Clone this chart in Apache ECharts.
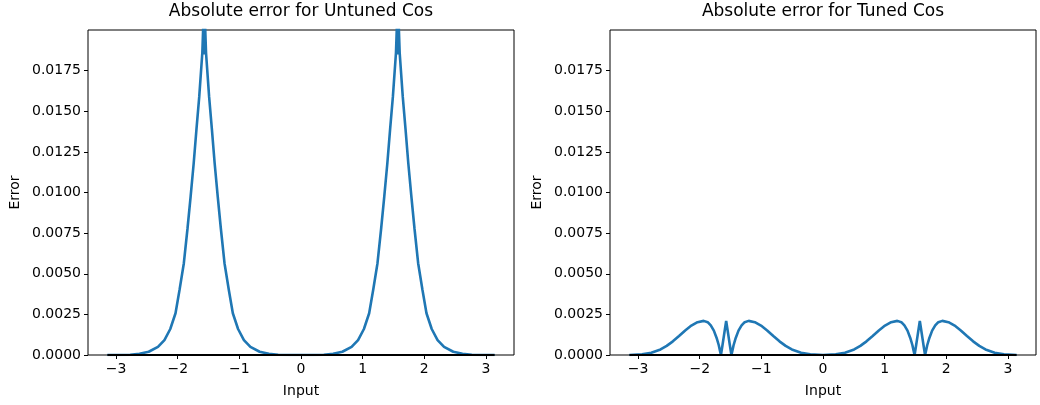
<!DOCTYPE html>
<html>
<head>
<meta charset="UTF-8">
<title></title>
<script src="https://cdn.jsdelivr.net/npm/echarts@6/dist/echarts.min.js"></script>
<style>
  html, body { margin: 0; padding: 0; background: #fff; }
</style>
</head>
<body>
<div id="main" style="width:1040px;height:405px;"></div>
<script type="text/javascript">
// values
var untunedX = [-3.1416, -2.971, -2.771, -2.621, -2.471, -2.321, -2.216, -2.121, -2.036, -1.971, -1.901, -1.841, -1.791, -1.741, -1.696, -1.651, -1.601, -1.583, -1.571,
  -1.559, -1.541, -1.491, -1.446, -1.401, -1.351, -1.301, -1.241, -1.171, -1.106, -1.021, -0.926, -0.821, -0.671, -0.521, -0.371, -0.171, 0,
  0.171, 0.371, 0.521, 0.671, 0.821, 0.926, 1.021, 1.106, 1.171, 1.241, 1.301, 1.351, 1.401, 1.446, 1.491, 1.541, 1.559, 1.571,
  1.583, 1.601, 1.651, 1.696, 1.741, 1.791, 1.841, 1.901, 1.971, 2.036, 2.121, 2.216, 2.321, 2.471, 2.621, 2.771, 2.971, 3.1416];
var untunedErr = [0, 0, 0.00002, 0.00008, 0.0002, 0.0005, 0.00092, 0.0016, 0.00257, 0.004, 0.00565, 0.0078, 0.00975, 0.0118, 0.0139, 0.0159, 0.0186, 0.0206, 0.0185,
  0.0206, 0.0186, 0.0159, 0.0139, 0.0118, 0.00975, 0.0078, 0.00565, 0.004, 0.00257, 0.0016, 0.00092, 0.0005, 0.0002, 0.00008, 0.00002, 0, 0,
  0, 0.00002, 0.00008, 0.0002, 0.0005, 0.00092, 0.0016, 0.00257, 0.004, 0.00565, 0.0078, 0.00975, 0.0118, 0.0139, 0.0159, 0.0186, 0.0206, 0.0185,
  0.0206, 0.0186, 0.0159, 0.0139, 0.0118, 0.00975, 0.0078, 0.00565, 0.004, 0.00257, 0.0016, 0.00092, 0.0005, 0.0002, 0.00008, 0.00002, 0, 0];

var tunedX = [-3.1416, -2.936, -2.786, -2.636, -2.536, -2.436, -2.336, -2.236, -2.136, -2.036, -1.936, -1.871, -1.821, -1.771, -1.726, -1.691, -1.671, -1.656, -1.631, -1.611, -1.591, -1.571,
  -1.551, -1.531, -1.511, -1.486, -1.471, -1.451, -1.416, -1.371, -1.321, -1.271, -1.206, -1.106, -1.006, -0.906, -0.806, -0.706, -0.606, -0.506, -0.356, -0.206, 0,
  0.206, 0.356, 0.506, 0.606, 0.706, 0.806, 0.906, 1.006, 1.106, 1.206, 1.271, 1.321, 1.371, 1.416, 1.451, 1.471, 1.486, 1.511, 1.531, 1.551, 1.571,
  1.591, 1.611, 1.631, 1.656, 1.671, 1.691, 1.726, 1.771, 1.821, 1.871, 1.936, 2.036, 2.136, 2.236, 2.336, 2.436, 2.536, 2.636, 2.786, 2.936, 3.1416];
var tunedErr = [0, 0.00005, 0.00014, 0.00034, 0.00056, 0.00084, 0.00117, 0.00151, 0.00181, 0.00202, 0.0021, 0.00202, 0.00182, 0.0015, 0.00105, 0.0006, 0.00025, 0, 0.0006, 0.0011, 0.0016, 0.0021,
  0.0016, 0.0011, 0.0006, 0, 0.00025, 0.0006, 0.00105, 0.0015, 0.00182, 0.00202, 0.0021, 0.00202, 0.00181, 0.00151, 0.00117, 0.00084, 0.00056, 0.00034, 0.00014, 0.00005, 0,
  0.00005, 0.00014, 0.00034, 0.00056, 0.00084, 0.00117, 0.00151, 0.00181, 0.00202, 0.0021, 0.00202, 0.00182, 0.0015, 0.00105, 0.0006, 0.00025, 0, 0.0006, 0.0011, 0.0016, 0.0021,
  0.0016, 0.0011, 0.0006, 0, 0.00025, 0.0006, 0.00105, 0.0015, 0.00182, 0.00202, 0.0021, 0.00202, 0.00181, 0.00151, 0.00117, 0.00084, 0.00056, 0.00034, 0.00014, 0.00005, 0];

var zeroX = [-3.1416, 3.1416];
var zeroErr = [0, 0];

var xTicks = [-3, -2, -1, 0, 1, 2, 3];
var yTicks = [0, 0.0025, 0.005, 0.0075, 0.01, 0.0125, 0.015, 0.0175];
var titles = ['Absolute error for Untuned Cos', 'Absolute error for Tuned Cos'];

function pairs(xs, ys) {
  var out = [];
  for (var i = 0; i < xs.length; i++) out.push([xs[i], ys[i]]);
  return out;
}

var font = 'DejaVu Sans';
var gridLefts = [88, 610];

function xAxisFor(i) {
  return {
    type: 'value', gridIndex: i, min: -3.456, max: 3.456, position: 'bottom',
    name: 'Input', nameLocation: 'middle', nameGap: 29,
    nameTextStyle: { fontFamily: font, fontSize: 14, color: '#000' },
    axisLine: { show: false, onZero: false },
    axisTick: { show: true, length: 4, inside: false, customValues: xTicks, lineStyle: { color: '#000', width: 1 } },
    axisLabel: { customValues: xTicks, fontFamily: font, fontSize: 14, color: '#000', margin: 7,
      formatter: function (v) { return String(v).replace('-', '\u2212'); } },
    splitLine: { show: false }
  };
}
function yAxisFor(i) {
  return {
    type: 'value', gridIndex: i, min: 0, max: 0.02, position: 'left',
    name: 'Error', nameLocation: 'middle', nameGap: 66, nameRotate: 90,
    nameTextStyle: { fontFamily: font, fontSize: 14, color: '#000' },
    axisLine: { show: false, onZero: false },
    axisTick: { show: true, length: 4, inside: false, customValues: yTicks, lineStyle: { color: '#000', width: 1 } },
    axisLabel: { customValues: yTicks, fontFamily: font, fontSize: 14, color: '#000', margin: 7,
      formatter: function (v) { return v.toFixed(4); } },
    splitLine: { show: false }
  };
}

var option = {
  backgroundColor: '#fff',
  animation: false,
  title: titles.map(function (t, i) {
    return { text: t, left: gridLefts[i] + 213, top: 3, textAlign: 'center', padding: 0,
      textStyle: { fontFamily: font, fontSize: 17, fontWeight: 'normal', color: '#000' } };
  }),
  grid: gridLefts.map(function (l) {
    return { left: l, top: 30, width: 426, height: 325, show: true, borderColor: '#000', borderWidth: 1, backgroundColor: 'transparent' };
  }),
  xAxis: [xAxisFor(0), xAxisFor(1)],
  yAxis: [yAxisFor(0), yAxisFor(1)],
  series: [
    { type: 'line', xAxisIndex: 0, yAxisIndex: 0, data: pairs(untunedX, untunedErr), showSymbol: false, clip: true,
      lineStyle: { color: '#1f77b4', width: 2.6 } },
    { type: 'line', xAxisIndex: 0, yAxisIndex: 0, data: pairs(zeroX, zeroErr), showSymbol: false, clip: false,
      lineStyle: { color: '#000', width: 2 } },
    { type: 'line', xAxisIndex: 1, yAxisIndex: 1, data: pairs(tunedX, tunedErr), showSymbol: false, clip: true,
      lineStyle: { color: '#1f77b4', width: 2.6 } },
    { type: 'line', xAxisIndex: 1, yAxisIndex: 1, data: pairs(zeroX, zeroErr), showSymbol: false, clip: false,
      lineStyle: { color: '#000', width: 2 } }
  ]
};

var myChart = echarts.init(document.getElementById('main'));
myChart.setOption(option);
</script>
</body>
</html>
